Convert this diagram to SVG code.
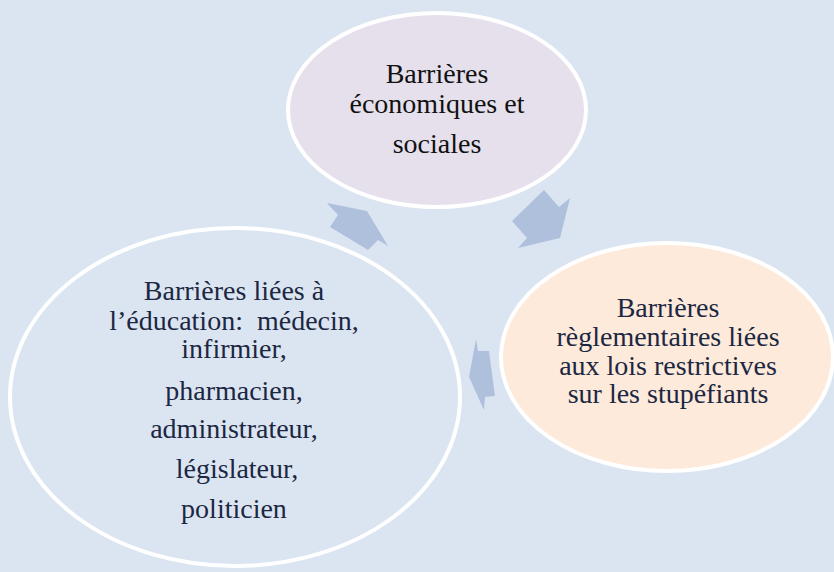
<svg xmlns="http://www.w3.org/2000/svg" width="834" height="572" viewBox="0 0 834 572">
  <style>
    .node { stroke: #FFFFFF; stroke-width: 4; }
    .arrow { fill: #AFC0DC; stroke: none; }
    .lbl { font-size: 28px; text-anchor: middle; }
    .dark { fill: #1C2742; }
    .black { fill: #111111; }
  </style>
  <rect x="0" y="0" width="834" height="572" fill="#DBE5F1"/>
  <g id="connectors">
    <polygon class="arrow" points="327,203 367,211 388,246 378,240 368,250 330,227 338,215"/>
    <polygon class="arrow" points="544,190 559,207 570,198 560,238 518,248 527,238 512,221"/>
    <polygon class="arrow" points="476,339 478,351 489,351 495,396 485,397 484,410 469,377"/>
  </g>
  <g id="node-economiques" font-family="'Liberation Serif', 'DejaVu Serif', serif">
    <ellipse class="node" cx="437" cy="110" rx="149" ry="97" fill="#E5E0EC"/>
    <text class="lbl black" x="437" y="83">Barrières</text>
    <text class="lbl black" x="437" y="113">économiques et</text>
    <text class="lbl black" x="437" y="153">sociales</text>
  </g>
  <g id="node-reglementaires" font-family="'Liberation Serif', 'DejaVu Serif', serif">
    <ellipse class="node" cx="667" cy="357" rx="166" ry="114" fill="#FDEADA"/>
    <text class="lbl dark" x="668" y="317">Barrières</text>
    <text class="lbl dark" x="668" y="346">règlementaires liées</text>
    <text class="lbl dark" x="668" y="375">aux lois restrictives</text>
    <text class="lbl dark" x="668" y="403">sur les stupéfiants</text>
  </g>
  <g id="node-education" font-family="'Liberation Serif', 'DejaVu Serif', serif">
    <ellipse class="node" cx="235" cy="397" rx="225" ry="169" fill="#DBE5F1"/>
    <text class="lbl dark" x="234" y="300">Barrières liées à</text>
    <text class="lbl dark" x="234" y="330">l’éducation: &#160;médecin,</text>
    <text class="lbl dark" x="234" y="358">infirmier,</text>
    <text class="lbl dark" x="234" y="400">pharmacien,</text>
    <text class="lbl dark" x="234" y="438">administrateur,</text>
    <text class="lbl dark" x="237" y="478">législateur,</text>
    <text class="lbl dark" x="234" y="518">politicien</text>
  </g>
</svg>
